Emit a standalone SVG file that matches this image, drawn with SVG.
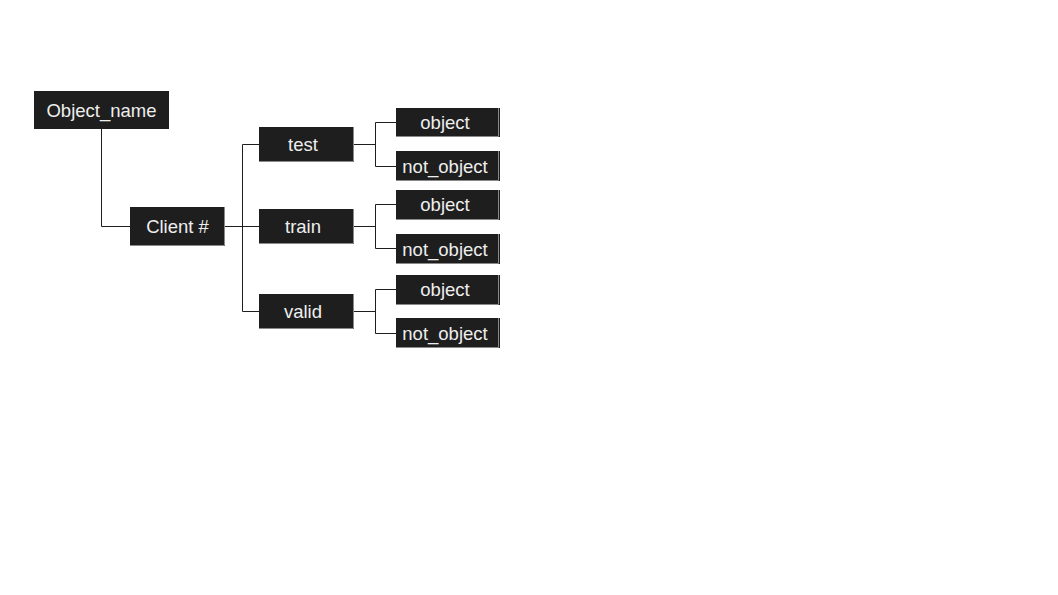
<svg xmlns="http://www.w3.org/2000/svg" width="1058" height="595" viewBox="0 0 1058 595">
<style>
.box{fill:#1e1e1e}
.edge{fill:none;stroke:#8a8a8a;stroke-width:1}
.lbl{font-family:"Liberation Sans",Arial,sans-serif;font-size:18.5px;fill:#eeeeee;text-anchor:middle}
.conn{fill:none;stroke:#1e1e1e;stroke-width:1}
</style>
<rect width="1058" height="595" fill="#ffffff"/>
<g id="connectors">
<path class="conn" d="M101.5 129 V226.5 H130"/>
<path class="conn" d="M224 226.5 H259"/>
<path class="conn" d="M259 144.5 H242.5 V311.5 H259"/>
<path class="conn" d="M353 144.5 H375.5"/>
<path class="conn" d="M396 122.5 H375.5 V166.5 H396"/>
<path class="conn" d="M353 226.5 H375.5"/>
<path class="conn" d="M396 204.5 H375.5 V248.5 H396"/>
<path class="conn" d="M353 311.5 H375.5"/>
<path class="conn" d="M396 289.5 H375.5 V333.5 H396"/>
</g>
<g id="object_name">
<rect class="box" x="34" y="91" width="135" height="38"/>
<text class="lbl" x="101.5" y="116.5">Object_name</text>
</g>
<g id="client">
<rect class="box" x="130" y="207" width="95" height="39"/>
<path class="edge" d="M224.5 207 V245.5 H130"/>
<text class="lbl" x="177.5" y="233">Client #</text>
</g>
<g id="test">
<rect class="box" x="259" y="127" width="95" height="35"/>
<path class="edge" d="M353.5 127 V161.5 H259"/>
<text class="lbl" x="303" y="150.5">test</text>
</g>
<g id="train">
<rect class="box" x="259" y="209" width="95" height="35"/>
<path class="edge" d="M353.5 209 V243.5 H259"/>
<text class="lbl" x="303" y="232.5">train</text>
</g>
<g id="valid">
<rect class="box" x="259" y="294" width="95" height="35"/>
<path class="edge" d="M353.5 294 V328.5 H259"/>
<text class="lbl" x="303" y="317.5">valid</text>
</g>
<g id="test_object">
<rect class="box" x="396" y="108" width="104" height="29"/>
<path class="edge" d="M498.5 108 V136.5 H396"/>
<text class="lbl" x="445" y="129">object</text>
</g>
<g id="test_not_object">
<rect class="box" x="396" y="151" width="104" height="30"/>
<path class="edge" d="M498.5 151 V180.5 H396"/>
<text class="lbl" x="445" y="172.5">not_object</text>
</g>
<g id="train_object">
<rect class="box" x="396" y="190" width="104" height="30"/>
<path class="edge" d="M498.5 190 V219.5 H396"/>
<text class="lbl" x="445" y="211">object</text>
</g>
<g id="train_not_object">
<rect class="box" x="396" y="234" width="104" height="30"/>
<path class="edge" d="M498.5 234 V263.5 H396"/>
<text class="lbl" x="445" y="255.5">not_object</text>
</g>
<g id="valid_object">
<rect class="box" x="396" y="275" width="104" height="30"/>
<path class="edge" d="M498.5 275 V304.5 H396"/>
<text class="lbl" x="445" y="296">object</text>
</g>
<g id="valid_not_object">
<rect class="box" x="396" y="318" width="104" height="30"/>
<path class="edge" d="M498.5 318 V347.5 H396"/>
<text class="lbl" x="445" y="339.5">not_object</text>
</g>
</svg>
